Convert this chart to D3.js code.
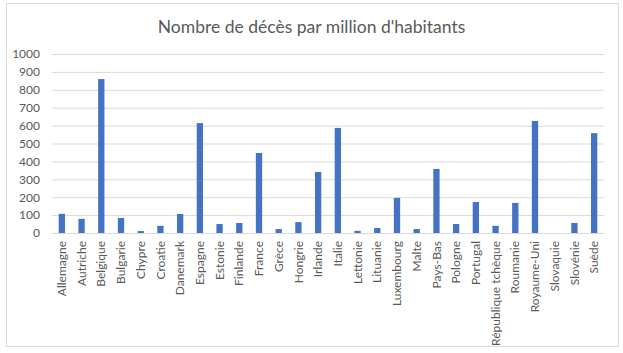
<!DOCTYPE html>
<html>
<head>
<meta charset="utf-8">
<script src="https://cdn.jsdelivr.net/npm/d3@7"></script>
<style>
  body { margin: 0; background: #fff; }
  text { font-family: Lato, "Open Sans", sans-serif; fill: #595959; }
</style>
</head>
<body>
<script>
// Décès par million d'habitants, pays de l'UE + Royaume-Uni
const countries = ["Allemagne", "Autriche", "Belgique", "Bulgarie", "Chypre", "Croatie",
  "Danemark", "Espagne", "Estonie", "Finlande", "France", "Grèce", "Hongrie", "Irlande",
  "Italie", "Lettonie", "Lituanie", "Luxembourg", "Malte", "Pays-Bas", "Pologne", "Portugal",
  "République tchèque", "Roumanie", "Royaume-Uni", "Slovaquie", "Slovénie", "Suède"];
const deaths = [107, 79, 860, 84, 11, 40, 106, 614, 50, 56, 447, 22, 61, 341,
  587, 12, 28, 196, 22, 358, 50, 173, 40, 168, 626, 0, 56, 558];
const yTicks = [0, 100, 200, 300, 400, 500, 600, 700, 800, 900, 1000];
const title = "Nombre de décès par million d'habitants";

const w = 623;
const h = 353;
const margin = { top: 54, right: 19, bottom: 120, left: 52 };

const svg = d3.select("body")
  .append("svg")
  .attr("width", w)
  .attr("height", h);

// cadre du graphique
svg.append("rect")
  .attr("x", 6.5).attr("y", 3.5)
  .attr("width", 612).attr("height", 343)
  .attr("fill", "#fff")
  .attr("stroke", "#d9d9d9");

const x = d3.scaleBand()
  .domain(countries)
  .range([margin.left, w - margin.right])
  .paddingInner(0.68)
  .paddingOuter(0.34);

const y = d3.scaleLinear()
  .domain([0, 1000])
  .range([h - margin.bottom, margin.top]);

// grille
const yAxis = d3.axisLeft(y)
  .tickValues(yTicks)
  .tickFormat(d3.format("d"))
  .tickSize(-(w - margin.right - margin.left))
  .tickPadding(12);

svg.append("g")
  .attr("class", "y axis")
  .attr("transform", `translate(${margin.left},0)`)
  .call(yAxis)
  .call(g => g.select(".domain").remove())
  .call(g => g.selectAll(".tick line").attr("stroke", "#d9d9d9"))
  .call(g => g.selectAll(".tick text").attr("font-size", 12).attr("fill", "#595959"));

svg.selectAll("rect.bar")
  .data(countries)
  .enter()
  .append("rect")
  .attr("class", "bar")
  .attr("x", d => x(d))
  .attr("width", x.bandwidth())
  .attr("y", (d, i) => y(deaths[i]))
  .attr("height", (d, i) => y(0) - y(deaths[i]))
  .attr("fill", "#4472c4");

const xAxis = d3.axisBottom(x).tickSize(0).tickPadding(8);

svg.append("g")
  .attr("class", "x axis")
  .attr("transform", `translate(0,${h - margin.bottom})`)
  .call(xAxis)
  .call(g => g.select(".domain").attr("stroke", "#d9d9d9"))
  .call(g => g.selectAll(".tick text")
    .attr("font-size", 12)
    .attr("fill", "#595959")
    .attr("text-anchor", "end")
    .attr("transform", "rotate(-90)")
    .attr("x", -8)
    .attr("y", 0)
    .attr("dy", "0.35em"));

svg.append("text")
  .attr("x", w / 2)
  .attr("y", 33)
  .attr("text-anchor", "middle")
  .attr("font-size", 17.5)
  .text(title);
</script>
</body>
</html>
